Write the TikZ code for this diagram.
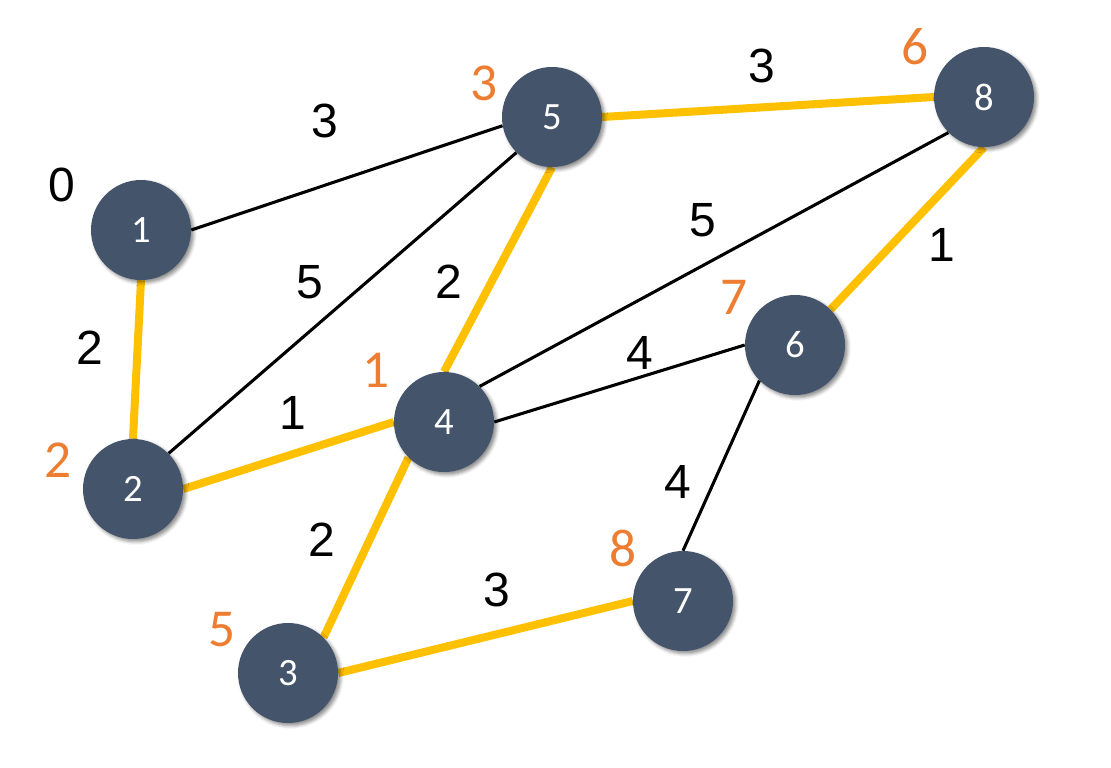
\documentclass[tikz,border=0pt]{standalone}
\usepackage{fontspec}
\setmainfont{Liberation Sans}
\newfontfamily\calfont{Carlito}
\usetikzlibrary{shadows.blur}
\definecolor{nodeblue}{HTML}{44546A}
\definecolor{pathyellow}{HTML}{FFC000}
\definecolor{distorange}{HTML}{ED7D31}
\pgfdeclarelayer{background}
\pgfsetlayers{background,main}
\begin{document}
\begin{tikzpicture}[x=0.75pt,y=-0.75pt,
  vertex/.style={circle, fill=nodeblue, minimum size=75pt, inner sep=0pt, text=white,
    font=\calfont\fontsize{29}{29}\selectfont,
    blur shadow={shadow xshift=2pt, shadow yshift=-2pt, shadow blur radius=2.5pt, shadow opacity=45}},
  plain/.style={draw=black, line width=2.3pt},
  tree/.style={draw=pathyellow, line width=6pt},
  weight/.style={font=\fontsize{36}{36}\selectfont, text=black, inner sep=0pt},
  dist/.style={font=\calfont\fontsize{40}{40}\selectfont, text=distorange, inner sep=0pt}]
\useasboundingbox (0,0) rectangle (1111,768);

\node[vertex] (n1) at (141,230) {1};
\node[vertex] (n2) at (133,489) {2};
\node[vertex] (n3) at (288,673) {3};
\node[vertex] (n4) at (444,422) {4};
\node[vertex] (n5) at (552,117) {5};
\node[vertex] (n6) at (795,345) {6};
\node[vertex] (n7) at (683,601) {7};
\node[vertex] (n8) at (984,97) {8};

\begin{pgfonlayer}{background}
\draw[plain] (n1.east) -- (n5.190);
\draw[tree] (n1.south) -- (n2.north);
\draw[plain] (n2.north east) -- (n5.south west);
\draw[tree] (n2.east) -- (n4.west);
\draw[tree] (n4.north) -- (n5.south);
\draw[tree] (n5.east) -- (n8.west);
\draw[plain] (n4.north east) -- (n8.south west);
\draw[plain] (n4.east) -- (n6.west);
\draw[tree] (n6.north east) -- (n8.south);
\draw[plain] (n6.south west) -- (n7.north);
\draw[tree] (n4.south west) -- (n3.north east);
\draw[tree] (n3.east) -- (n7.west);
\end{pgfonlayer}

% edge weights
\node[weight] (w15) at (325,121) {3};
\node[weight] (w0) at (62,185) {0};
\node[weight] (w12) at (90,348) {2};
\node[weight] (w25) at (310,282) {5};
\node[weight] (w45) at (449,282) {2};
\node[weight] (w24) at (293,413) {1};
\node[weight] (w58) at (762,66) {3};
\node[weight] (w48) at (703,220) {5};
\node[weight] (w68) at (942,245) {1};
\node[weight] (w46) at (640,353) {4};
\node[weight] (w67) at (678,482) {4};
\node[weight] (w34) at (322,540) {2};
\node[weight] (w37) at (497,590) {3};

% distances
\node[dist] (d5) at (484,83) {3};
\node[dist] (d8) at (915,47) {6};
\node[dist] (d6) at (734,297) {7};
\node[dist] (d4) at (376,370) {1};
\node[dist] (d2) at (58,460) {2};
\node[dist] (d3) at (222,630) {5};
\node[dist] (d7) at (623,548) {8};
\end{tikzpicture}
\end{document}
